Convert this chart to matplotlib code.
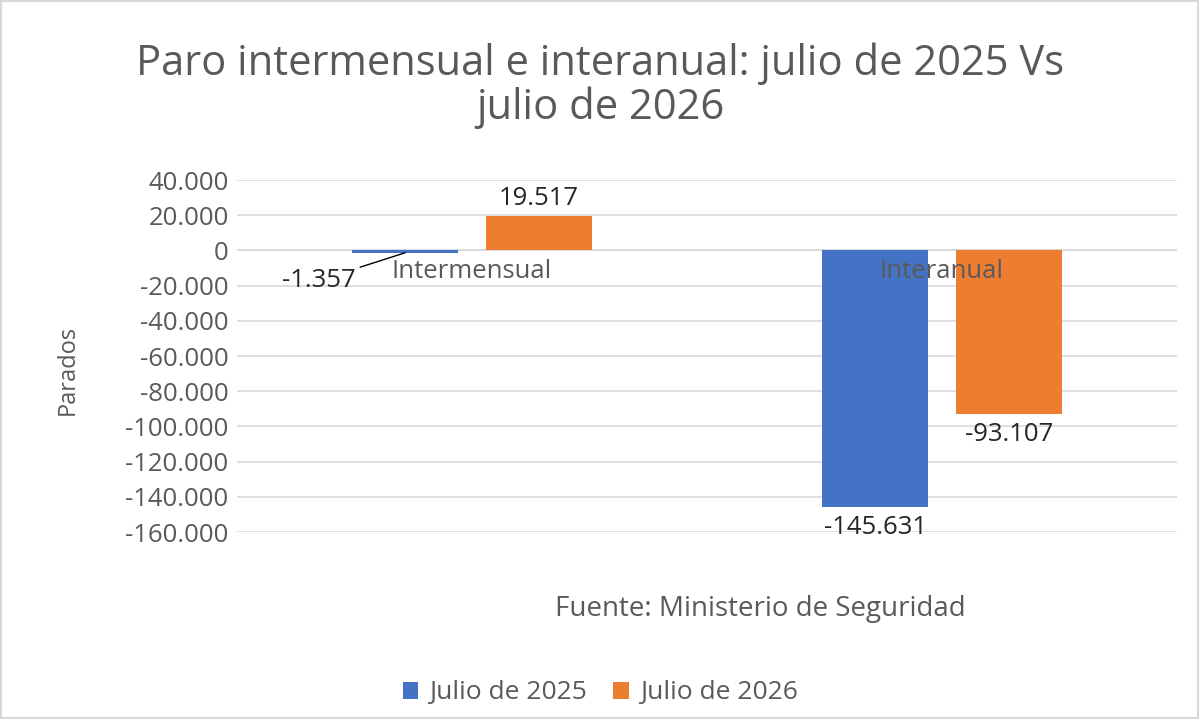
import numpy as np
import matplotlib
matplotlib.use('Agg')
import matplotlib.pyplot as plt
from matplotlib.patches import Rectangle

categories = ['Intermensual', 'Interanual']
series_names = ['Julio de 2025', 'Julio de 2026']
julio_2025 = [-1357, -145631]
julio_2026 = [19517, -93107]
yticks = [40000, 20000, 0, -20000, -40000, -60000, -80000, -100000,
          -120000, -140000, -160000]

blue = '#4472C4'
orange = '#ED7D31'
grey = '#595959'

plt.rcParams['font.family'] = ['Open Sans', 'DejaVu Sans']


def fmt(v):
    return f'{v:,.0f}'.replace(',', '.')


fig = plt.figure(figsize=(12, 7.19), dpi=100)
ax = fig.add_axes([237 / 1200, 1 - 532 / 719, 940 / 1200, 352 / 719])

x = np.arange(len(categories))
w = 0.225
gap = 0.03
b1 = ax.bar(x - w / 2 - gap, julio_2025, w, color=blue, label=series_names[0], zorder=3)
b2 = ax.bar(x + w / 2 + gap, julio_2026, w, color=orange, label=series_names[1], zorder=3)

ax.set_xlim(-0.5, 1.5)
ax.set_ylim(-160000, 40000)
ax.set_yticks(yticks)
ax.set_yticklabels([fmt(t) for t in yticks], fontsize=18.5, color=grey)
ax.tick_params(axis='y', length=0, pad=6)
ax.set_xticks([])
ax.grid(axis='y', color='#D9D9D9', linewidth=1.2, zorder=0)
for s in ax.spines.values():
    s.set_visible(False)
ax.axhline(0, color='#D9D9D9', linewidth=1.2, zorder=1)

# category labels next to the zero axis
for xi, c in zip(x, categories):
    ax.text(xi, -5000, c, ha='center', va='top', fontsize=18.5, color=grey, zorder=4)

# data labels
r = b1[0]
lx = r.get_x() + r.get_width() / 2
ax.annotate(fmt(julio_2025[0]), xy=(lx, julio_2025[0]), xytext=(x[0] - 0.325, -17000),
            ha='center', va='center', fontsize=18.5, color='#262626',
            arrowprops=dict(arrowstyle='-', color='black', lw=1,
                            shrinkA=1, shrinkB=0))
for bars, vals in ((b1, julio_2025), (b2, julio_2026)):
    for i, (rect, v) in enumerate(zip(bars, vals)):
        if bars is b1 and i == 0:
            continue
        cx = rect.get_x() + rect.get_width() / 2
        if v >= 0:
            ax.text(cx, v + 3000, fmt(v), ha='center', va='bottom', fontsize=18.5, color='#262626')
        else:
            ax.text(cx, v - 4500, fmt(v), ha='center', va='top', fontsize=18.5, color='#262626')

fig.text(600 / 1200, 1 - 86 / 719, 'Paro intermensual e interanual: julio de 2025 Vs\njulio de 2026',
         ha='center', va='center', fontsize=30, color=grey, linespacing=1.05)
fig.text(68 / 1200, 1 - 370 / 719, 'Parados', rotation=90, ha='center', va='center',
         fontsize=17, color=grey)
fig.text(760 / 1200, 1 - 609 / 719, 'Fuente: Ministerio de Seguridad', ha='center', va='center',
         fontsize=20, color=grey)

leg = fig.legend(loc='center', bbox_to_anchor=(600 / 1200, 1 - 693 / 719), ncol=2,
                 frameon=False, fontsize=19, handlelength=0.6, handleheight=0.6,
                 handletextpad=0.4, columnspacing=1.0)
for t in leg.get_texts():
    t.set_color(grey)

fig.patches.append(Rectangle((0.001, 0.001), 0.997, 0.997, transform=fig.transFigure,
                             fill=False, edgecolor='#D9D9D9', linewidth=1.5))

fig.savefig('out.png', dpi=100)
